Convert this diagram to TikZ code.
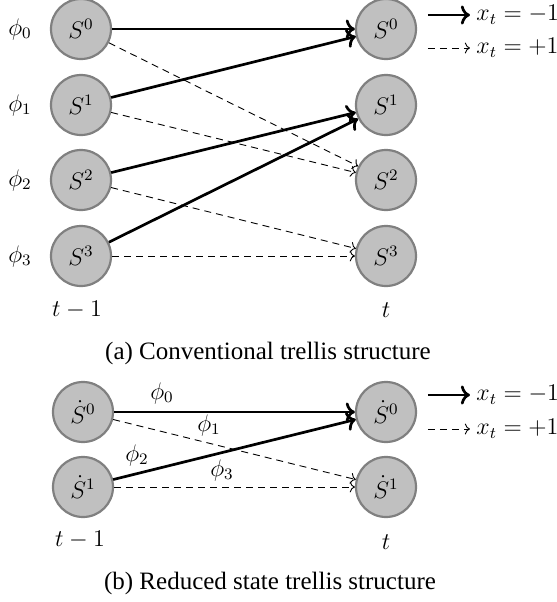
\documentclass[tikz,border=0pt,12pt]{standalone}
\usepackage[no-math]{fontspec}
\setmainfont{Liberation Serif}
\usepackage{amsmath}
\usetikzlibrary{arrows.meta, positioning}
\definecolor{statefill}{RGB}{192, 192, 192}
\definecolor{stateline}{RGB}{128, 128, 128}
\tikzset{
  state/.style={circle, draw=stateline, fill=statefill, line width=1.1pt, minimum size=30pt, inner sep=0pt},
  minusone/.style={->, line width=1.35pt},
  plusone/.style={->, line width=0.45pt, dash pattern=on 3.5pt off 2.5pt},
  legtext/.style={anchor=west, inner sep=3pt},
  captext/.style={font=\fontsize{12.5}{15}\selectfont},
}

\begin{document}
\begin{tikzpicture}[x=0.5pt, y=-0.5pt]
  \useasboundingbox (0, 0) rectangle (557, 602);

  % (a) Conventional trellis
  \node[state] (a0) at (81, 29) {$S^0$};
  \node[state] (a1) at (81, 105) {$S^1$};
  \node[state] (a2) at (81, 180) {$S^2$};
  \node[state] (a3) at (81, 256) {$S^3$};

  \node[state] (b0) at (386, 29) {$S^0$};
  \node[state] (b1) at (386, 105) {$S^1$};
  \node[state] (b2) at (386, 180) {$S^2$};
  \node[state] (b3) at (386, 256) {$S^3$};

  \node (phi0) at (20, 29) {$\phi_0$};
  \node (phi1) at (20, 105) {$\phi_1$};
  \node (phi2) at (20, 180) {$\phi_2$};
  \node (phi3) at (20, 256) {$\phi_3$};

  \draw[minusone] (a0) -- (b0);
  \draw[minusone] (a1) -- (b0);
  \draw[minusone] (a2) -- (b1);
  \draw[minusone] (a3) -- (b1);
  \draw[plusone] (a0) -- (b2);
  \draw[plusone] (a1) -- (b2);
  \draw[plusone] (a2) -- (b3);
  \draw[plusone] (a3) -- (b3);

  % legend (a)
  \coordinate (legA1) at (428, 15);
  \coordinate (legA2) at (428, 48);
  \node[legtext] (txtA1) at (470, 15) {$x_t = -1$};
  \node[legtext] (txtA2) at (470, 48) {$x_t = +1$};
  \draw[minusone] (legA1) -- (txtA1.west);
  \draw[plusone] (legA2) -- (txtA2.west);

  \node (tpa) at (77, 310) {$t-1$};
  \node (ta) at (386, 310) {$t$};
  \node[captext] (capa) at (268, 353) {(a) Conventional trellis structure};

  % (b) Reduced state trellis
  \node[state] (c0) at (83, 412) {$\dot{S}^0$};
  \node[state] (c1) at (83, 487) {$\dot{S}^1$};
  \node[state] (d0) at (386, 412) {$\dot{S}^0$};
  \node[state] (d1) at (386, 487) {$\dot{S}^1$};

  \draw[minusone] (c0) -- (d0);
  \draw[minusone] (c1) -- (d0);
  \draw[plusone] (c0) -- (d1);
  \draw[plusone] (c1) -- (d1);

  \node (psi0) at (162, 393) {$\phi_0$};
  \node (psi1) at (209, 425) {$\phi_1$};
  \node (psi2) at (137, 455) {$\phi_2$};
  \node (psi3) at (222, 470) {$\phi_3$};

  % legend (b)
  \coordinate (legB1) at (428, 395);
  \coordinate (legB2) at (428, 429);
  \node[legtext] (txtB1) at (470, 395) {$x_t = -1$};
  \node[legtext] (txtB2) at (470, 429) {$x_t = +1$};
  \draw[minusone] (legB1) -- (txtB1.west);
  \draw[plusone] (legB2) -- (txtB2.west);

  \node (tpb) at (80, 540) {$t-1$};
  \node (tb) at (386, 542) {$t$};
  \node[captext] (capb) at (270, 583) {(b) Reduced state trellis structure};
\end{tikzpicture}
\end{document}
